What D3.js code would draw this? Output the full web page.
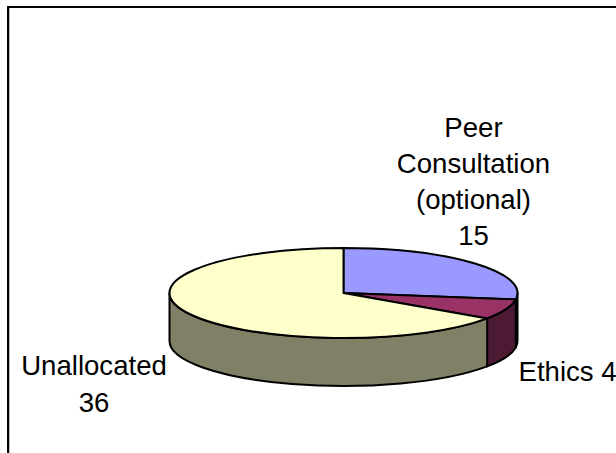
<!DOCTYPE html>
<html><head><meta charset="utf-8">
<script src="https://cdnjs.cloudflare.com/ajax/libs/d3/7.8.5/d3.min.js"></script>
<style>html,body{margin:0;padding:0;background:#fff}svg{display:block}text{font-family:"Liberation Sans",Arial,sans-serif;font-size:27.6px;fill:#000}</style>
</head><body><svg id="c" width="616" height="453"></svg>
<script>
const categories = ["Peer Consultation (optional)", "Ethics", "Unallocated"];
const values = [15, 4, 36];
const topColors = ["#9999ff", "#993366", "#ffffcc"];
const sideColors = ["#4d4d80", "#4d1a33", "#808066"];
const labelLines = [["Peer","Consultation","(optional)","15"],["Ethics 4"],["Unallocated","36"]];
const labelAnchors = [[473.5,137],[518.5,381],[94,375]];

const W=616,H=453,cx=343.5,cy=293,rx=174,ry=45,depth=48,sy=ry/rx;
const svg=d3.select("#c");
svg.append("path").attr("d","M8 453V7H616").attr("fill","none").attr("stroke","#000").attr("stroke-width",2);
svg.append("line").attr("x1",9.5).attr("x2",9.5).attr("y1",8).attr("y2",453).attr("stroke","#bbb").attr("stroke-width",1);

const pie=d3.pie().sort(null).startAngle(0).endAngle(2*Math.PI)(values);
const g=svg.append("g").attr("transform",`translate(${cx},${cy}) scale(1,${sy})`);
const arc=d3.arc().innerRadius(0).outerRadius(rx);
const hp=Math.PI/2, d3h=depth/sy;
// front walls: only the part of each slice facing the viewer
function wall(a0,a1){
  const s=Math.max(a0,hp), e=Math.min(a1,3*hp);
  if(e<=s) return null;
  const p=d3.path();
  p.arc(0,0,rx,s-hp,e-hp,false);
  p.lineTo(rx*Math.cos(e-hp),rx*Math.sin(e-hp)+d3h);
  p.arc(0,d3h,rx,e-hp,s-hp,true);
  p.closePath();
  return p.toString();
}
const st=s=>s.attr("stroke","#000").attr("stroke-width",2).attr("stroke-linejoin","round").attr("vector-effect","non-scaling-stroke");
pie.forEach((d,i)=>{const w=wall(d.startAngle,d.endAngle); if(w) g.append("path").attr("d",w).attr("fill",sideColors[i]).call(st);});
g.selectAll("path.t").data(pie).join("path").attr("class","t").attr("d",arc).attr("fill",(d,i)=>topColors[i]).call(st);

const lineGap=[36,0,37];
labelLines.forEach((lines,i)=>{
  const anchor=i===1?"start":"middle";
  lines.forEach((t,j)=>svg.append("text").attr("x",labelAnchors[i][0]).attr("y",labelAnchors[i][1]+j*lineGap[i]).attr("text-anchor",anchor).text(t));
});
</script></body></html>
